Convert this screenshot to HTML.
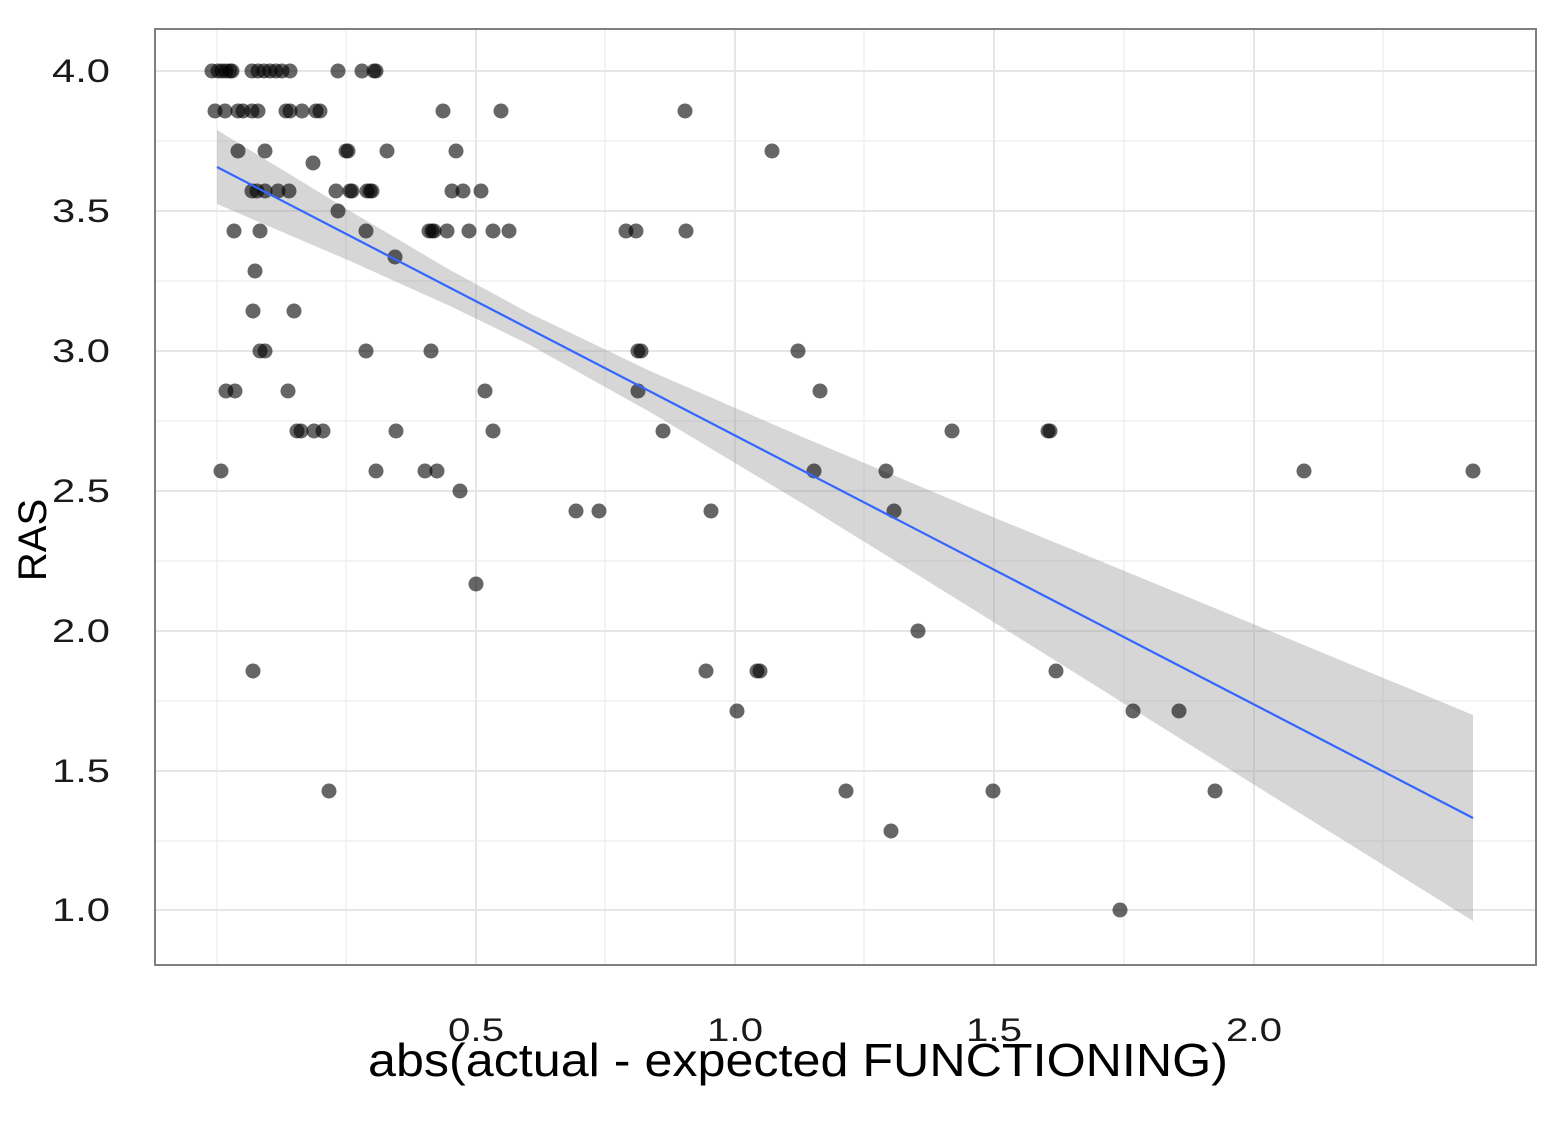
<!DOCTYPE html>
<html><head><meta charset="utf-8"><style>
html,body{margin:0;padding:0;background:#fff;}
svg{display:block;font-family:"Liberation Sans",sans-serif;}
</style></head><body>
<svg width="1551" height="1128" viewBox="0 0 1551 1128" xmlns="http://www.w3.org/2000/svg">
<rect width="1551" height="1128" fill="#fff"/>
<g stroke="#f0f0f0" stroke-width="1.5">
<line x1="155" x2="1536" y1="141" y2="141"/><line x1="155" x2="1536" y1="281" y2="281"/>
<line x1="155" x2="1536" y1="421" y2="421"/><line x1="155" x2="1536" y1="561" y2="561"/>
<line x1="155" x2="1536" y1="701" y2="701"/><line x1="155" x2="1536" y1="841" y2="841"/>
<line y1="29" y2="965" x1="217" x2="217"/><line y1="29" y2="965" x1="346" x2="346"/>
<line y1="29" y2="965" x1="605" x2="605"/><line y1="29" y2="965" x1="864" x2="864"/>
<line y1="29" y2="965" x1="1124" x2="1124"/><line y1="29" y2="965" x1="1383" x2="1383"/>
</g>
<g stroke="#e6e6e6" stroke-width="2">
<line x1="155" x2="1536" y1="71" y2="71"/><line x1="155" x2="1536" y1="211" y2="211"/>
<line x1="155" x2="1536" y1="351" y2="351"/><line x1="155" x2="1536" y1="491" y2="491"/>
<line x1="155" x2="1536" y1="631" y2="631"/><line x1="155" x2="1536" y1="771" y2="771"/>
<line x1="155" x2="1536" y1="910" y2="910"/>
<line y1="29" y2="965" x1="476" x2="476"/><line y1="29" y2="965" x1="735" x2="735"/>
<line y1="29" y2="965" x1="994" x2="994"/><line y1="29" y2="965" x1="1254" x2="1254"/>
</g>
<polygon fill="#999" fill-opacity="0.4" points="217,130 350,211 450,270 528,312.5 650,371 800,436 1000,520 1200,602 1473,715 1473,921 1200,751 1000,626 800,502 650,412 528,344 450,306 350,261 217,204"/>
<g fill="#000" fill-opacity="0.6">
<circle cx="212" cy="71" r="7.5"/><circle cx="218" cy="71" r="7.5"/><circle cx="222" cy="71" r="7.5"/><circle cx="226" cy="71" r="7.5"/><circle cx="230" cy="71" r="7.5"/><circle cx="232" cy="71" r="7.5"/><circle cx="252" cy="71" r="7.5"/><circle cx="258" cy="71" r="7.5"/><circle cx="264" cy="71" r="7.5"/><circle cx="270" cy="71" r="7.5"/><circle cx="276" cy="71" r="7.5"/><circle cx="282" cy="71" r="7.5"/><circle cx="290" cy="71" r="7.5"/><circle cx="338" cy="71" r="7.5"/><circle cx="362" cy="71" r="7.5"/><circle cx="374" cy="71" r="7.5"/><circle cx="376" cy="71" r="7.5"/>
<circle cx="215" cy="111" r="7.5"/><circle cx="225" cy="111" r="7.5"/><circle cx="238" cy="111" r="7.5"/><circle cx="243" cy="111" r="7.5"/><circle cx="252" cy="111" r="7.5"/><circle cx="258" cy="111" r="7.5"/><circle cx="286" cy="111" r="7.5"/><circle cx="290" cy="111" r="7.5"/><circle cx="302" cy="111" r="7.5"/><circle cx="316" cy="111" r="7.5"/><circle cx="320" cy="111" r="7.5"/><circle cx="443" cy="111" r="7.5"/><circle cx="501" cy="111" r="7.5"/><circle cx="685" cy="111" r="7.5"/>
<circle cx="238" cy="151" r="7.5"/><circle cx="265" cy="151" r="7.5"/><circle cx="346" cy="151" r="7.5"/><circle cx="348" cy="151" r="7.5"/><circle cx="387" cy="151" r="7.5"/><circle cx="456" cy="151" r="7.5"/><circle cx="772" cy="151" r="7.5"/>
<circle cx="313" cy="163" r="7.5"/>
<circle cx="252" cy="191" r="7.5"/><circle cx="257" cy="191" r="7.5"/><circle cx="265" cy="191" r="7.5"/><circle cx="278" cy="191" r="7.5"/><circle cx="289" cy="191" r="7.5"/><circle cx="336" cy="191" r="7.5"/><circle cx="350" cy="191" r="7.5"/><circle cx="352" cy="191" r="7.5"/><circle cx="367" cy="191" r="7.5"/><circle cx="370" cy="191" r="7.5"/><circle cx="372" cy="191" r="7.5"/><circle cx="452" cy="191" r="7.5"/><circle cx="463" cy="191" r="7.5"/><circle cx="481" cy="191" r="7.5"/>
<circle cx="338" cy="211" r="7.5"/>
<circle cx="234" cy="231" r="7.5"/><circle cx="260" cy="231" r="7.5"/><circle cx="366" cy="231" r="7.5"/><circle cx="429" cy="231" r="7.5"/><circle cx="432" cy="231" r="7.5"/><circle cx="434" cy="231" r="7.5"/><circle cx="447" cy="231" r="7.5"/><circle cx="469" cy="231" r="7.5"/><circle cx="493" cy="231" r="7.5"/><circle cx="509" cy="231" r="7.5"/><circle cx="626" cy="231" r="7.5"/><circle cx="636" cy="231" r="7.5"/><circle cx="686" cy="231" r="7.5"/>
<circle cx="395" cy="257" r="7.5"/><circle cx="255" cy="271" r="7.5"/><circle cx="253" cy="311" r="7.5"/><circle cx="294" cy="311" r="7.5"/>
<circle cx="260" cy="351" r="7.5"/><circle cx="265" cy="351" r="7.5"/><circle cx="366" cy="351" r="7.5"/><circle cx="431" cy="351" r="7.5"/><circle cx="638" cy="351" r="7.5"/><circle cx="641" cy="351" r="7.5"/><circle cx="798" cy="351" r="7.5"/>
<circle cx="226" cy="391" r="7.5"/><circle cx="235" cy="391" r="7.5"/><circle cx="288" cy="391" r="7.5"/><circle cx="485" cy="391" r="7.5"/><circle cx="638" cy="391" r="7.5"/><circle cx="820" cy="391" r="7.5"/>
<circle cx="297" cy="431" r="7.5"/><circle cx="301" cy="431" r="7.5"/><circle cx="314" cy="431" r="7.5"/><circle cx="323" cy="431" r="7.5"/><circle cx="396" cy="431" r="7.5"/><circle cx="493" cy="431" r="7.5"/><circle cx="663" cy="431" r="7.5"/><circle cx="952" cy="431" r="7.5"/><circle cx="1048" cy="431" r="7.5"/><circle cx="1050" cy="431" r="7.5"/>
<circle cx="221" cy="471" r="7.5"/><circle cx="376" cy="471" r="7.5"/><circle cx="425" cy="471" r="7.5"/><circle cx="437" cy="471" r="7.5"/><circle cx="814" cy="471" r="7.5"/><circle cx="886" cy="471" r="7.5"/><circle cx="1304" cy="471" r="7.5"/><circle cx="1473" cy="471" r="7.5"/>
<circle cx="460" cy="491" r="7.5"/>
<circle cx="576" cy="511" r="7.5"/><circle cx="599" cy="511" r="7.5"/><circle cx="711" cy="511" r="7.5"/><circle cx="894" cy="511" r="7.5"/>
<circle cx="476" cy="584" r="7.5"/><circle cx="918" cy="631" r="7.5"/>
<circle cx="253" cy="671" r="7.5"/><circle cx="706" cy="671" r="7.5"/><circle cx="757" cy="671" r="7.5"/><circle cx="760" cy="671" r="7.5"/><circle cx="1056" cy="671" r="7.5"/>
<circle cx="737" cy="711" r="7.5"/><circle cx="1133" cy="711" r="7.5"/><circle cx="1179" cy="711" r="7.5"/>
<circle cx="329" cy="791" r="7.5"/><circle cx="846" cy="791" r="7.5"/><circle cx="993" cy="791" r="7.5"/><circle cx="1215" cy="791" r="7.5"/>
<circle cx="891" cy="831" r="7.5"/><circle cx="1120" cy="910" r="7.5"/>
</g>
<line x1="217" y1="167" x2="1473" y2="818" stroke="#3366ff" stroke-width="2.2"/>
<rect x="155" y="29" width="1381" height="936" fill="none" stroke="#7f7f7f" stroke-width="2"/>
<g font-size="32" fill="#1a1a1a" lengthAdjust="spacingAndGlyphs">
<text x="52" y="82" textLength="58" lengthAdjust="spacingAndGlyphs">4.0</text><text x="52" y="222" textLength="58" lengthAdjust="spacingAndGlyphs">3.5</text><text x="52" y="362" textLength="58" lengthAdjust="spacingAndGlyphs">3.0</text>
<text x="52" y="502" textLength="58" lengthAdjust="spacingAndGlyphs">2.5</text><text x="52" y="642" textLength="58" lengthAdjust="spacingAndGlyphs">2.0</text><text x="52" y="782" textLength="58" lengthAdjust="spacingAndGlyphs">1.5</text><text x="52" y="921" textLength="58" lengthAdjust="spacingAndGlyphs">1.0</text>
</g>
<g font-size="32" fill="#1a1a1a">
<text x="448" y="1041" textLength="56" lengthAdjust="spacingAndGlyphs">0.5</text><text x="707" y="1041" textLength="56" lengthAdjust="spacingAndGlyphs">1.0</text><text x="966" y="1041" textLength="56" lengthAdjust="spacingAndGlyphs">1.5</text><text x="1226" y="1041" textLength="56" lengthAdjust="spacingAndGlyphs">2.0</text>
</g>
<text x="368" y="1076" font-size="46" textLength="860" lengthAdjust="spacingAndGlyphs" fill="#000">abs(actual - expected FUNCTIONING)</text>
<text transform="translate(46,540) rotate(-90)" font-size="40" text-anchor="middle" fill="#000">RAS</text>
</svg>
</body></html>
